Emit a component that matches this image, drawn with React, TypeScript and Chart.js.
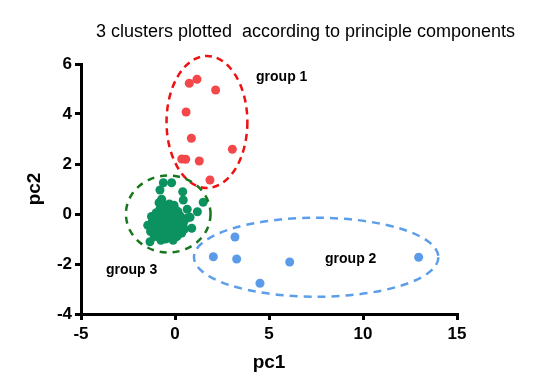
import React, { useEffect, useRef } from "react";
import { Chart, registerables } from "chart.js";

Chart.register(...registerables);

// ---- data ----
const titleText = "3 clusters plotted  according to principle components";
const xTicks = [-5, 0, 5, 10, 15];
const yTicks = [-4, -2, 0, 2, 4, 6];

const group1: [number, number][] = [
  [0.76, 5.23], [1.17, 5.39], [2.16, 4.96], [0.59, 4.08], [0.87, 3.03],
  [0.36, 2.2], [0.57, 2.19], [1.29, 2.12], [3.05, 2.59], [1.86, 1.36],
];

const group2: [number, number][] = [
  [3.19, -0.92], [2.04, -1.71], [3.28, -1.8], [6.1, -1.92], [4.52, -2.77], [12.96, -1.73],
];

const group3: [number, number][] = [
  [-0.62, 1.25], [-0.18, 1.25], [-0.8, 0.96], [0.41, 0.89], [0.44, 0.56], [-0.71, 0.59],
  [1.5, 0.47], [0.65, 0.19], [1.19, 0.09], [0.0, 0.19], [0.62, -0.17], [0.89, -0.57],
  [0.18, -0.31], [-1.33, -1.11], [-0.64, -0.96], [-0.18, -0.96], [0.36, -0.76], [0.8, -0.13],
  [-1.2, -0.3], [-1.1, -0.5], [-1.0, -0.2], [-0.9, -0.6], [-0.8, -0.4], [-0.7, -0.1],
  [-0.6, -0.5], [-0.5, -0.3], [-0.4, -0.6], [-0.3, -0.2], [-0.2, -0.4], [-0.1, -0.7],
  [0.0, -0.3], [0.1, -0.5], [0.2, -0.8], [-1.3, -0.7], [-1.1, -0.9], [-0.9, -0.9],
  [-0.7, -0.8], [-0.5, -1.0], [-0.3, -0.9], [-0.6, 0.1], [-0.4, 0.2], [-0.2, 0.0],
  [-0.8, 0.2], [-1.0, 0.05], [-0.5, 0.35], [-0.3, 0.4], [-0.9, -0.25], [-0.65, -0.65],
  [-0.35, -0.45], [-0.15, -0.15], [0.05, -0.05], [-1.45, -0.45], [-1.25, -0.1], [-0.55, -0.8],
  [-0.25, -0.65], [0.3, -0.55], [0.45, -0.35], [0.25, -0.05], [-0.75, -1.05], [-1.0, -0.75],
  [-0.1, -1.05], [0.1, -0.9], [-0.45, 0.0], [-0.85, 0.45], [-0.6, 0.3], [0.15, 0.1],
  [-0.05, 0.35], [-1.2, -0.55], [0.5, -0.6],
];

// ellipses: [cx, cy, rx, ry] in data units
const ellipse1 = [1.7, 3.68, 2.15, 2.64];
const ellipse2 = [7.51, -1.73, 6.5, 1.58];
const ellipse3 = [-0.36, 0.0, 2.25, 1.54];

// group labels: text, left x, baseline y (data units)
const labelNames = ["group 1", "group 2", "group 3"];
const labelX = [4.31, 7.98, -3.67];
const labelY = [5.32, -1.94, -2.4];

const toPts = (arr: [number, number][]) => arr.map(([x, y]) => ({ x, y }));

export default function App() {
  const ref = useRef<HTMLCanvasElement>(null);

  useEffect(() => {
    if (!ref.current) return;

    const overlay = {
      id: "overlay",
      afterDatasetsDraw(chart: any) {
        const { ctx, scales } = chart;
        const xs = scales.x;
        const ys = scales.y;
        const drawEllipse = (e: number[], color: string, dash: number[]) => {
          const cx = xs.getPixelForValue(e[0]);
          const cy = ys.getPixelForValue(e[1]);
          const rx = Math.abs(xs.getPixelForValue(e[0] + e[2]) - cx);
          const ry = Math.abs(ys.getPixelForValue(e[1] + e[3]) - cy);
          ctx.save();
          ctx.beginPath();
          ctx.setLineDash(dash);
          ctx.lineWidth = 2.5;
          ctx.strokeStyle = color;
          ctx.ellipse(cx, cy, rx, ry, 0, 0, Math.PI * 2);
          ctx.stroke();
          ctx.restore();
        };
        drawEllipse(ellipse1, "#ee1111", [7, 5]);
        drawEllipse(ellipse2, "#5b9ee9", [8, 6]);
        drawEllipse(ellipse3, "#17771d", [7, 6]);

        ctx.save();
        ctx.fillStyle = "#000";
        ctx.font = "bold 14px 'Liberation Sans', Arial, sans-serif";
        ctx.textAlign = "left";
        ctx.textBaseline = "alphabetic";
        labelNames.forEach((t, i) => {
          ctx.fillText(t, xs.getPixelForValue(labelX[i]), ys.getPixelForValue(labelY[i]));
        });
        ctx.font = "18px 'Liberation Sans', Arial, sans-serif";
        ctx.textAlign = "center";
        ctx.fillText(titleText, 305.5, 37);
        ctx.restore();
      },
    };

    const tickFont = { family: "'Liberation Sans', Arial, sans-serif", size: 17, weight: "bold" as const };
    const titleFont = { family: "'Liberation Sans', Arial, sans-serif", size: 19, weight: "bold" as const };

    const chart = new Chart(ref.current, {
      type: "scatter",
      data: {
        datasets: [
          { data: toPts(group1), backgroundColor: "#f4474a", pointRadius: 4.5, pointBorderWidth: 0, borderWidth: 0 },
          { data: toPts(group2), backgroundColor: "#5a9bea", pointRadius: 4.5, pointBorderWidth: 0, borderWidth: 0 },
          { data: toPts(group3), backgroundColor: "#0b9260", pointRadius: 4.5, pointBorderWidth: 0, borderWidth: 0 },
        ],
      },
      options: {
        animation: false,
        responsive: false,
        events: [],
        layout: { padding: { left: 0, top: 64, right: 78, bottom: 0 } },
        plugins: { legend: { display: false }, tooltip: { enabled: false }, title: { display: false } },
        scales: {
          x: {
            type: "linear",
            min: -5,
            max: 15,
            afterBuildTicks: (s: any) => { s.ticks = xTicks.map((v) => ({ value: v })); },
            afterFit: (s: any) => { s.height = 78; },
            ticks: { color: "#000", font: tickFont, padding: 4, maxRotation: 0 },
            grid: { drawOnChartArea: false, drawTicks: true, tickLength: 6, tickColor: "#000", tickWidth: 3, lineWidth: 3, color: "#000" },
            border: { display: true, color: "#000", width: 3 },
            title: { display: true, text: "pc1", color: "#000", font: titleFont, padding: { top: 0, bottom: 18 } },
          },
          y: {
            type: "linear",
            min: -4,
            max: 6,
            afterBuildTicks: (s: any) => { s.ticks = yTicks.map((v) => ({ value: v })); },
            afterFit: (s: any) => { s.width = 81; },
            ticks: { color: "#000", font: tickFont, padding: 3 },
            grid: { drawOnChartArea: false, drawTicks: true, tickLength: 6, tickColor: "#000", tickWidth: 3, lineWidth: 3, color: "#000" },
            border: { display: true, color: "#000", width: 3 },
            title: { display: true, text: "pc2", color: "#000", font: titleFont, padding: { top: 23, bottom: 0 } },
          },
        },
      },
      plugins: [overlay],
    });
    return () => chart.destroy();
  }, []);

  return (
    <div style={{ position: "fixed", left: 0, top: 0, width: 535, height: 392, background: "#fff" }}>
      <canvas ref={ref} width={535} height={392} style={{ display: "block" }} />
    </div>
  );
}
